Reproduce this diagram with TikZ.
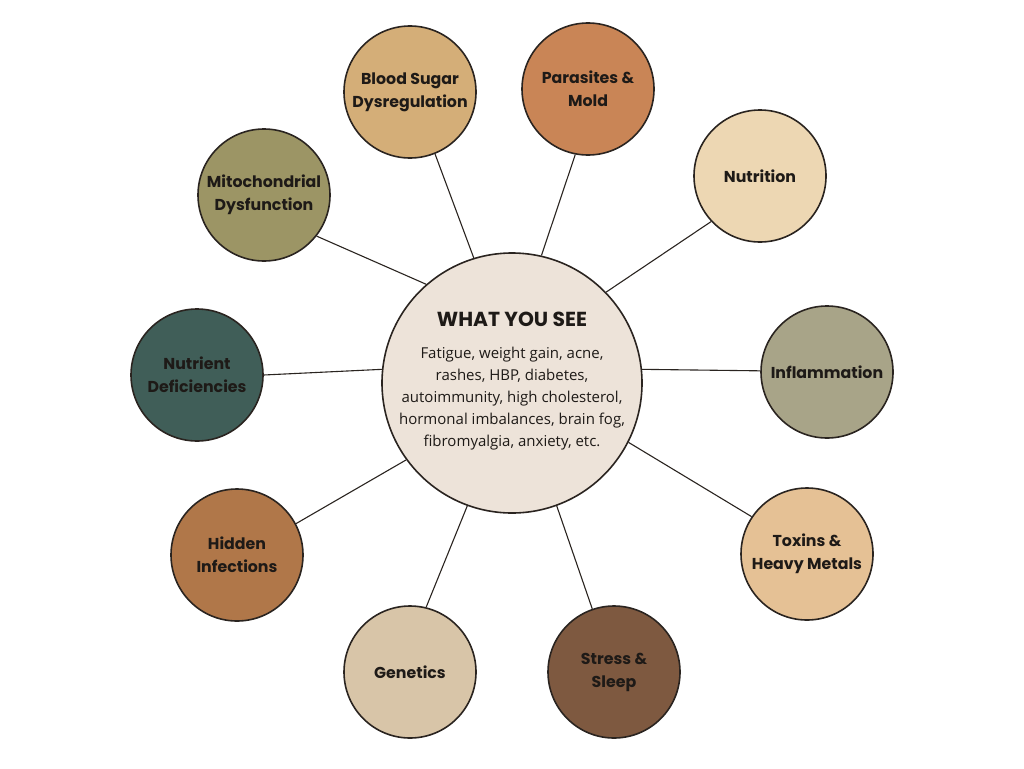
\documentclass[tikz,border=0pt]{standalone}
\usepackage{fontspec}
\setmainfont{Open Sans}
\newfontfamily\labfont{Poppins}
\definecolor{ink}{HTML}{1E1A17}
\definecolor{edge}{HTML}{2A2420}
\definecolor{cCenter}{HTML}{EDE3D9}
\definecolor{cBlood}{HTML}{D4AE78}
\definecolor{cPara}{HTML}{C98556}
\definecolor{cNutr}{HTML}{EDD7B3}
\definecolor{cInfl}{HTML}{A8A488}
\definecolor{cTox}{HTML}{E5C195}
\definecolor{cStress}{HTML}{7E5940}
\definecolor{cGen}{HTML}{D8C5A8}
\definecolor{cHidden}{HTML}{B07749}
\definecolor{cDef}{HTML}{405E58}
\definecolor{cMito}{HTML}{9C9565}
\tikzset{
  bubble/.style={circle, draw=edge, line width=1.6pt, minimum size=132pt, inner sep=0pt,
    align=center, text=ink, font=\labfont\bfseries\fontsize{15.8}{23}\selectfont},
  link/.style={draw=edge, line width=1.1pt}
}
\begin{document}
\begin{tikzpicture}[x=1pt,y=-1pt]
\useasboundingbox (0,0) rectangle (1024,768);
\node[circle, draw=edge, line width=1.6pt, fill=cCenter, minimum size=260pt, inner sep=0pt] (c) at (512,383) {};
\node[text=ink, font=\labfont\bfseries\fontsize{20.3}{22}\selectfont] (title) at (512,319) {WHAT YOU SEE};
\node[text=ink, align=center, font=\fontsize{15}{22}\selectfont] (body) at (512,399)
  {Fatigue, weight gain, acne,\\rashes, HBP, diabetes,\\autoimmunity, high cholesterol,\\hormonal imbalances, brain fog,\\fibromyalgia, anxiety, etc.};
\node[bubble, fill=cBlood] (blood) at (410,92) {Blood Sugar\\Dysregulation};
\node[bubble, fill=cPara] (para) at (588,89) {Parasites \&\\Mold};
\node[bubble, fill=cNutr] (nutr) at (760,176) {Nutrition};
\node[bubble, fill=cInfl] (infl) at (827,372) {Inflammation};
\node[bubble, fill=cTox] (tox) at (807,554) {Toxins \&\\Heavy Metals};
\node[bubble, fill=cStress] (stress) at (614,672) {Stress \&\\Sleep};
\node[bubble, fill=cGen] (gen) at (410,672) {Genetics};
\node[bubble, fill=cHidden] (hid) at (237,555) {Hidden\\Infections};
\node[bubble, fill=cDef] (def) at (197,375) {Nutrient\\Deficiencies};
\node[bubble, fill=cMito] (mito) at (264,195) {Mitochondrial\\Dysfunction};
\foreach \a/\n/\b in {107.3/blood/-68.4, 77.9/para/-101.1, 44.1/nutr/-137.4, 6.6/infl/179.1,
    -27.2/tox/146.8, -70.1/stress/109, -110.4/gen/76.4, -144.2/hid/28.5,
    174.7/def/0.9, 131.9/mito/-38.9}
  \draw[link] (c.\a) -- (\n.\b);
\end{tikzpicture}
\end{document}
